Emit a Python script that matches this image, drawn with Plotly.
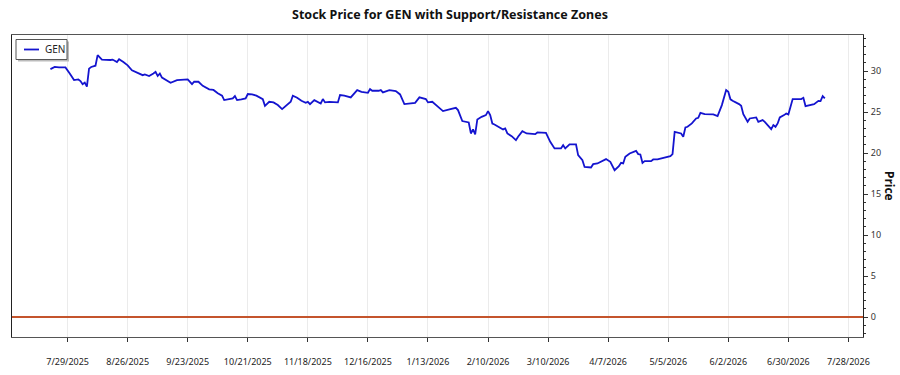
import plotly.graph_objects as go

dates = [
    "2025-07-21", "2025-07-23", "2025-07-25", "2025-07-28", "2025-07-30", "2025-08-01",
    "2025-08-03", "2025-08-04", "2025-08-05", "2025-08-06", "2025-08-07", "2025-08-08",
    "2025-08-09", "2025-08-11", "2025-08-12", "2025-08-14", "2025-08-18", "2025-08-19",
    "2025-08-21", "2025-08-22", "2025-08-24", "2025-08-26", "2025-08-28", "2025-08-30",
    "2025-09-02", "2025-09-03", "2025-09-05", "2025-09-07", "2025-09-08", "2025-09-09",
    "2025-09-10", "2025-09-11", "2025-09-13", "2025-09-15", "2025-09-18", "2025-09-20",
    "2025-09-23", "2025-09-25", "2025-09-26", "2025-09-28", "2025-09-30",
    "2025-10-03", "2025-10-05", "2025-10-07", "2025-10-09", "2025-10-10", "2025-10-12",
    "2025-10-14", "2025-10-15", "2025-10-16", "2025-10-18", "2025-10-20", "2025-10-21",
    "2025-10-23", "2025-10-25", "2025-10-28", "2025-10-29", "2025-10-31",
    "2025-11-02", "2025-11-04", "2025-11-06", "2025-11-08", "2025-11-10", "2025-11-11",
    "2025-11-13", "2025-11-15", "2025-11-17", "2025-11-18", "2025-11-19", "2025-11-21",
    "2025-11-23", "2025-11-24", "2025-11-25", "2025-11-26", "2025-11-28",
    "2025-12-02", "2025-12-03", "2025-12-05", "2025-12-08", "2025-12-11", "2025-12-13",
    "2025-12-16", "2025-12-17", "2025-12-18", "2025-12-21", "2025-12-22", "2025-12-23",
    "2025-12-26", "2025-12-29", "2025-12-31",
    "2026-01-02", "2026-01-05", "2026-01-07", "2026-01-09", "2026-01-10", "2026-01-12",
    "2026-01-13", "2026-01-15", "2026-01-18", "2026-01-20", "2026-01-23", "2026-01-26",
    "2026-01-27", "2026-01-29",
    "2026-02-01", "2026-02-02", "2026-02-03", "2026-02-04", "2026-02-05", "2026-02-07",
    "2026-02-09", "2026-02-10", "2026-02-11", "2026-02-12", "2026-02-13", "2026-02-16",
    "2026-02-17", "2026-02-18", "2026-02-19", "2026-02-21", "2026-02-23", "2026-02-24",
    "2026-02-26", "2026-02-28",
    "2026-03-04", "2026-03-05", "2026-03-09", "2026-03-11", "2026-03-13", "2026-03-16",
    "2026-03-17", "2026-03-18", "2026-03-20", "2026-03-23", "2026-03-24", "2026-03-26",
    "2026-03-27", "2026-03-30", "2026-03-31",
    "2026-04-02", "2026-04-04", "2026-04-06", "2026-04-08", "2026-04-10", "2026-04-12",
    "2026-04-13", "2026-04-14", "2026-04-15", "2026-04-17", "2026-04-20", "2026-04-21",
    "2026-04-22", "2026-04-23", "2026-04-24", "2026-04-27", "2026-04-28", "2026-04-30",
    "2026-05-03", "2026-05-06", "2026-05-07", "2026-05-08", "2026-05-11", "2026-05-12",
    "2026-05-13", "2026-05-14", "2026-05-16", "2026-05-18", "2026-05-19", "2026-05-20",
    "2026-05-22", "2026-05-26", "2026-05-28", "2026-05-30",
    "2026-06-01", "2026-06-02", "2026-06-03", "2026-06-04", "2026-06-07", "2026-06-08",
    "2026-06-09", "2026-06-11", "2026-06-12", "2026-06-15", "2026-06-16", "2026-06-18",
    "2026-06-19", "2026-06-22", "2026-06-23", "2026-06-24", "2026-06-25", "2026-06-26",
    "2026-06-28", "2026-06-29", "2026-06-30",
    "2026-07-01", "2026-07-02", "2026-07-06", "2026-07-07", "2026-07-08", "2026-07-10",
    "2026-07-12", "2026-07-14", "2026-07-15", "2026-07-16", "2026-07-17",
]

prices = [
    30.24, 30.50, 30.45, 30.45, 29.70, 28.90,
    28.98, 28.78, 28.40, 28.60, 28.10, 30.30,
    30.50, 30.65, 31.95, 31.40, 31.35, 31.40,
    31.10, 31.45, 31.10, 30.70, 30.10, 29.85,
    29.50, 29.60, 29.40, 29.70, 29.90, 29.40,
    29.70, 29.20, 28.90, 28.57, 28.90, 28.90,
    28.98, 28.40, 28.70, 28.70, 28.20,
    27.77, 27.70, 27.30, 27.00, 26.46, 26.58,
    26.67, 26.95, 26.46, 26.55, 26.67, 27.20,
    27.15, 27.00, 26.58, 25.76, 26.25,
    26.18, 25.85, 25.36, 25.85, 26.25, 27.00,
    26.74, 26.37, 26.13, 26.25, 25.97, 26.46,
    26.25, 26.05, 26.58, 26.18, 26.25,
    26.18, 27.07, 27.00, 26.79, 27.68, 27.47,
    27.35, 27.80, 27.60, 27.60, 27.68, 27.40,
    27.68, 27.56, 27.15,
    25.97, 26.05, 26.13, 26.79, 26.74, 26.58,
    26.18, 26.25, 25.57, 25.12, 25.32, 25.52,
    25.24, 23.90,
    23.73, 22.39, 22.88, 22.27, 24.10, 24.42,
    24.63, 25.12, 24.63, 23.60, 23.49, 23.08,
    22.88, 23.00, 22.39, 22.06, 21.57, 21.98,
    22.67, 22.39,
    22.30, 22.51, 22.47, 21.37, 20.56, 20.56,
    20.96, 20.56, 21.05, 21.05, 19.74, 19.13,
    18.31, 18.24, 18.64,
    18.73, 19.01, 19.26, 18.93, 17.91, 18.40,
    18.80, 18.73, 19.54, 19.95, 20.27, 19.87,
    19.83, 18.80, 19.01, 19.01, 19.22, 19.22,
    19.41, 19.62, 19.87, 22.59, 22.39, 21.98,
    23.12, 23.20, 23.61, 24.22, 24.30, 24.91,
    24.75, 24.71, 24.50, 25.85,
    27.68, 27.47, 26.55, 26.37, 25.97, 25.76,
    24.75, 23.81, 24.22, 24.35, 23.81, 24.02,
    23.81, 22.92, 23.41, 23.20, 23.61, 24.35,
    24.63, 24.83, 24.71,
    25.73, 26.58, 26.58, 26.74, 25.73, 25.85,
    25.97, 26.37, 26.34, 26.95, 26.67,
]

ticker = "GEN"
support_levels = [0]
tick_dates = ["2025-07-29", "2025-08-26", "2025-09-23", "2025-10-21", "2025-11-18",
              "2025-12-16", "2026-01-13", "2026-02-10", "2026-03-10", "2026-04-07",
              "2026-05-05", "2026-06-02", "2026-06-30", "2026-07-28"]
tick_labels = ["7/29/2025", "8/26/2025", "9/23/2025", "10/21/2025", "11/18/2025",
               "12/16/2025", "1/13/2026", "2/10/2026", "3/10/2026", "4/7/2026",
               "5/5/2026", "6/2/2026", "6/30/2026", "7/28/2026"]

FONT = "Noto Sans"
LINE_COLOR = "#1414CF"
W, H = 900, 375
ML, MR, MT, MB = 12, 37, 35, 38
PW, PH = W - ML - MR, H - MT - MB


def px_x(px):
    return (px - ML) / PW


def px_y(py):
    return 1 - (py - MT) / PH


fig = go.Figure()
fig.add_trace(go.Scatter(
    x=dates, y=prices, mode="lines", name=ticker,
    line=dict(color=LINE_COLOR, width=1.8),
))

for lvl in support_levels:
    fig.add_hline(y=lvl, line=dict(color="#C4542C", width=2), layer="above")

# legend box (drawn manually to match the compact boxed legend with shadow)
legend_shapes = [
    dict(type="rect", xref="paper", yref="paper",
         x0=px_x(18), x1=px_x(69), y0=px_y(61.5), y1=px_y(41.5),
         fillcolor="#BBBBBB", line=dict(width=0), layer="above"),
    dict(type="rect", xref="paper", yref="paper",
         x0=px_x(16), x1=px_x(67), y0=px_y(59.5), y1=px_y(39.5),
         fillcolor="white", line=dict(color="#555555", width=1), layer="above"),
    dict(type="line", xref="paper", yref="paper",
         x0=px_x(24), x1=px_x(39), y0=px_y(49.5), y1=px_y(49.5),
         line=dict(color=LINE_COLOR, width=1.8), layer="above"),
]
for s in legend_shapes:
    fig.add_shape(**s)
fig.add_annotation(
    text=ticker, xref="paper", yref="paper", x=px_x(43), y=px_y(49.5),
    xanchor="left", yanchor="middle", showarrow=False,
    font=dict(family=FONT, size=10, color="#222222"),
)

fig.update_layout(
    width=W, height=H,
    margin=dict(l=ML, r=MR, t=MT, b=MB, autoexpand=False),
    paper_bgcolor="white", plot_bgcolor="white",
    font=dict(family=FONT, size=10, color="#333333"),
    title=dict(text="<b>Stock Price for GEN with Support/Resistance Zones</b>",
               x=0.5, xanchor="center", y=0.96, yanchor="middle",
               font=dict(family=FONT, size=12.5, color="#111111")),
    showlegend=False,
)

fig.update_xaxes(
    type="date",
    range=["2025-07-03 02:00", "2026-08-03 19:00"],
    tickmode="array", tickvals=tick_dates, ticktext=tick_labels,
    ticks="outside", ticklen=4, tickcolor="#333333",
    ticklabelstandoff=12,
    showgrid=True, gridcolor="#EBEBEB", gridwidth=1,
    showline=True, linecolor="#555555", linewidth=1, mirror=True,
    zeroline=False, automargin=False,
    tickfont=dict(family=FONT, size=9, color="#222222"),
)

fig.update_yaxes(
    side="right",
    range=[-2.44, 34.4],
    dtick=5, tick0=0,
    ticks="outside", ticklen=4, tickcolor="#333333",
    minor=dict(dtick=1, ticks="outside", ticklen=2, tickcolor="#333333", showgrid=False),
    showgrid=False, zeroline=False, automargin=False,
    showline=True, linecolor="#222222", linewidth=1, mirror=True,
    tickfont=dict(family=FONT, size=9, color="#333333"),
    ticklabelstandoff=1,
)

fig.add_annotation(
    text="<b>Price</b>", xref="paper", yref="paper", x=1.0, y=0.5,
    xanchor="center", yanchor="middle", xshift=27, showarrow=False, textangle=90,
    font=dict(family=FONT, size=12, color="#111111"),
)

fig.write_html("out.html")
